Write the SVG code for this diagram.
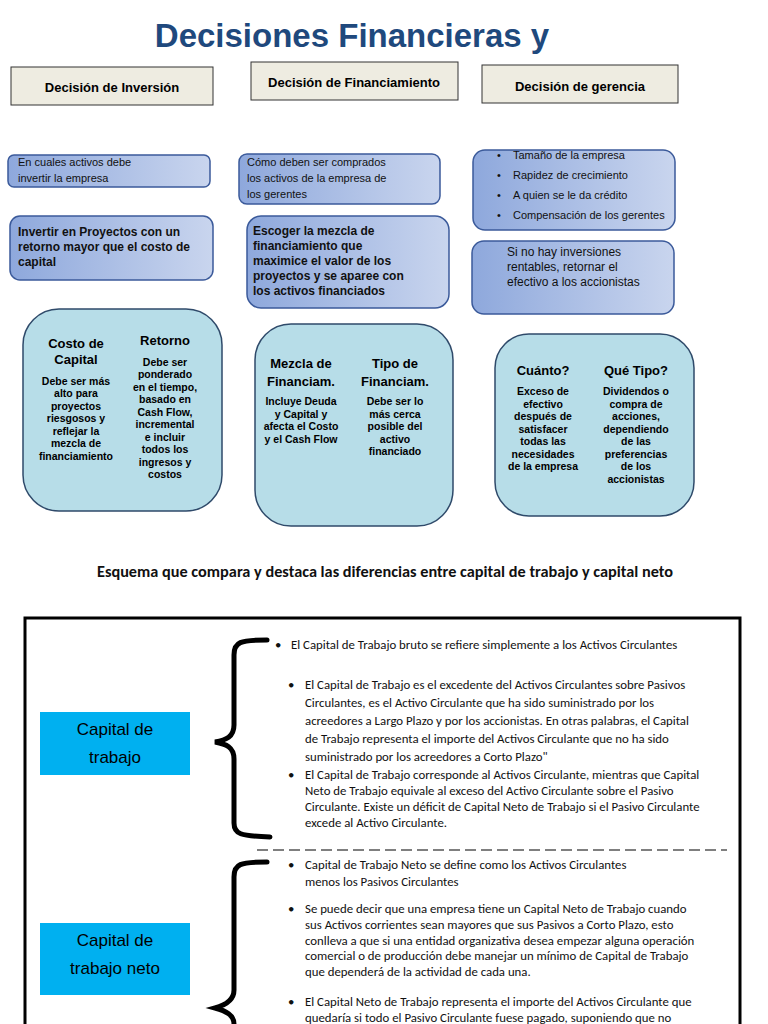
<svg xmlns="http://www.w3.org/2000/svg" width="768" height="1024" viewBox="0 0 768 1024">
<defs>
<linearGradient id="g" x1="0" y1="0" x2="1" y2="0"><stop offset="0" stop-color="#8ea8dc"/><stop offset="1" stop-color="#c9d5ee"/></linearGradient>
<style>
.hd{fill:#eeece1;stroke:#333;stroke-width:1}
.hdt{font:bold 13px "Liberation Sans",Arial,sans-serif;fill:#000;text-anchor:middle}
.bl{fill:url(#g);stroke:#3b5a9a;stroke-width:1.5}
.s{font:11px "Liberation Sans",Arial,sans-serif;fill:#111}
.b{font:bold 12px "Liberation Sans",Arial,sans-serif;fill:#111}
.cy{fill:#b7dde8;stroke:#2f4a6a;stroke-width:1.5}
.ct{font:bold 13px "Liberation Sans",Arial,sans-serif;fill:#000;text-anchor:middle}
.cs{font:bold 10.5px "Liberation Sans",Arial,sans-serif;fill:#000;text-anchor:middle}
.c{font:12.8px Carlito,"Liberation Sans",Arial,sans-serif;fill:#111}
.lb{fill:#00b0f0}
.lbt{font:17px "Liberation Sans",Arial,sans-serif;fill:#000;text-anchor:middle}
.br{fill:none;stroke:#000;stroke-width:5;stroke-linecap:round}
</style>
</defs>
<rect width="768" height="1024" fill="#fff"/>
<text x="352" y="47" text-anchor="middle" style="font:bold 33px 'Liberation Sans',Arial,sans-serif;fill:#1f497d">Decisiones Financieras y</text>
<g id="h1"><rect class="hd" x="11" y="67" width="202" height="38"/><text class="hdt" x="112" y="92">Decisión de Inversión</text></g>
<g id="h2"><rect class="hd" x="251" y="62" width="207" height="38" stroke-width="2"/><text class="hdt" x="354" y="87">Decisión de Financiamiento</text></g>
<g id="h3"><rect class="hd" x="482" y="65" width="196" height="38"/><text class="hdt" x="580" y="91">Decisión de gerencia</text></g>

<g id="b1"><rect class="bl" x="8" y="155" width="202" height="32" rx="6"/><text class="s" x="18" y="166">En cuales activos debe</text><text class="s" x="18" y="182">invertir la empresa</text></g>
<g id="b2"><rect class="bl" x="10" y="216" width="203" height="64" rx="10"/><text class="b" x="18" y="236">Invertir en Proyectos con un</text><text class="b" x="18" y="251">retorno mayor que el costo de</text><text class="b" x="18" y="266">capital</text></g>
<g id="b3"><rect class="bl" x="239" y="154" width="201" height="50" rx="8"/><text class="s" x="247" y="166">Cómo deben ser comprados</text><text class="s" x="247" y="182">los activos de la empresa de</text><text class="s" x="247" y="198">los gerentes</text></g>
<g id="b4"><rect class="bl" x="247" y="216" width="202" height="92" rx="14"/><text class="b" x="253" y="235">Escoger la mezcla de</text><text class="b" x="253" y="250">financiamiento que</text><text class="b" x="253" y="265">maximice el valor de los</text><text class="b" x="253" y="280">proyectos y se aparee con</text><text class="b" x="253" y="295">los activos financiados</text></g>
<g id="b5"><rect class="bl" x="473" y="150" width="202" height="80" rx="12"/>
<g class="s"><text x="497" y="159">•</text><text x="513" y="159">Tamaño de la empresa</text><text x="497" y="179">•</text><text x="513" y="179">Rapidez de crecimiento</text><text x="497" y="199">•</text><text x="513" y="199">A quien se le da crédito</text><text x="497" y="219">•</text><text x="513" y="219">Compensación de los gerentes</text></g></g>
<g id="b6"><rect class="bl" x="472" y="241" width="202" height="73" rx="12"/><text class="s" x="507" y="256" style="font-size:12px">Si no hay inversiones</text><text class="s" x="507" y="271" style="font-size:12px">rentables, retornar el</text><text class="s" x="507" y="286" style="font-size:12px">efectivo a los accionistas</text></g>

<g id="c1"><rect class="cy" x="23" y="309" width="199" height="202" rx="36"/>
<text class="ct" x="76" y="348">Costo de</text><text class="ct" x="76" y="364">Capital</text>
<text class="ct" x="165" y="345">Retorno</text>
<g class="cs"><text x="76" y="385">Debe ser más</text><text x="76" y="397">alto para</text><text x="76" y="410">proyectos</text><text x="76" y="422">riesgosos y</text><text x="76" y="435">reflejar la</text><text x="76" y="447">mezcla de</text><text x="76" y="460">financiamiento</text>
<text x="165" y="366">Debe ser</text><text x="165" y="378">ponderado</text><text x="165" y="391">en el tiempo,</text><text x="165" y="403">basado en</text><text x="165" y="416">Cash Flow,</text><text x="165" y="428">incremental</text><text x="165" y="441">e incluir</text><text x="165" y="453">todos los</text><text x="165" y="466">ingresos y</text><text x="165" y="478">costos</text></g></g>

<g id="c2"><rect class="cy" x="255" y="324" width="198" height="202" rx="36"/>
<text class="ct" x="301" y="368">Mezcla de</text><text class="ct" x="301" y="386">Financiam.</text>
<text class="ct" x="395" y="368">Tipo de</text><text class="ct" x="395" y="386">Financiam.</text>
<g class="cs"><text x="301" y="405">Incluye Deuda</text><text x="301" y="418">y Capital y</text><text x="301" y="430">afecta el Costo</text><text x="301" y="443">y el Cash Flow</text>
<text x="395" y="405">Debe ser lo</text><text x="395" y="418">más cerca</text><text x="395" y="430">posible del</text><text x="395" y="443">activo</text><text x="395" y="455">financiado</text></g></g>

<g id="c3"><rect class="cy" x="495" y="334" width="199" height="182" rx="34"/>
<text class="ct" x="543" y="375">Cuánto?</text><text class="ct" x="636" y="375">Qué Tipo?</text>
<g class="cs"><text x="543" y="395">Exceso de</text><text x="543" y="408">efectivo</text><text x="543" y="420">después de</text><text x="543" y="433">satisfacer</text><text x="543" y="445">todas las</text><text x="543" y="458">necesidades</text><text x="543" y="470">de la empresa</text>
<text x="636" y="395">Dividendos o</text><text x="636" y="408">compra de</text><text x="636" y="420">acciones,</text><text x="636" y="433">dependiendo</text><text x="636" y="445">de las</text><text x="636" y="458">preferencias</text><text x="636" y="470">de los</text><text x="636" y="483">accionistas</text></g></g>

<text x="385" y="577" text-anchor="middle" style="font:bold 16.3px Carlito,'Liberation Sans',Arial,sans-serif;fill:#111">Esquema que compara y destaca las diferencias entre capital de trabajo  y capital neto</text>

<rect x="25" y="618" width="715" height="420" fill="none" stroke="#000" stroke-width="3"/>
<g id="k1"><rect class="lb" x="40" y="712" width="150" height="63"/><text class="lbt" x="115" y="735">Capital de</text><text class="lbt" x="115" y="763">trabajo</text></g>
<g id="k2"><rect class="lb" x="40" y="923" width="150" height="72"/><text class="lbt" x="115" y="946">Capital de</text><text class="lbt" x="115" y="974">trabajo neto</text></g>
<g id="connectors">
<path class="br" d="M267,640 C240,640 234,642 234,655 L234,725 C234,737 226,740 215,742 C226,744 234,747 234,759 L234,823 C234,834 240,836 270,837"/>
<path class="br" d="M267,862 C240,862 234,864 234,877 L234,990 C234,1000 226,1005 215,1008 C226,1011 234,1015 234,1024 L234,1030"/>
<line x1="257" y1="850" x2="727" y2="850" stroke="#000" stroke-dasharray="11,5" stroke-width="1.2"/>
</g>
<g class="c">
<text x="275" y="649">•</text><text x="291" y="649">El Capital de Trabajo bruto se refiere simplemente a los Activos Circulantes</text>
<text x="288" y="689">•</text><text x="305" y="689">El Capital de Trabajo es el excedente del Activos Circulantes sobre Pasivos</text>
<text x="305" y="707">Circulantes, es el Activo Circulante que ha sido suministrado por los</text>
<text x="305" y="725">acreedores a Largo Plazo y por los accionistas. En otras palabras, el Capital</text>
<text x="305" y="743">de Trabajo representa el importe del Activos Circulante que no ha sido</text>
<text x="305" y="761">suministrado por los acreedores a Corto Plazo"</text>
<text x="288" y="779">•</text><text x="305" y="779">El Capital de Trabajo corresponde al Activos Circulante, mientras que Capital</text>
<text x="305" y="795">Neto de Trabajo equivale al exceso del Activo Circulante sobre el Pasivo</text>
<text x="305" y="811">Circulante. Existe un déficit de Capital Neto de Trabajo si el Pasivo Circulante</text>
<text x="305" y="827">excede al Activo Circulante.</text>
<text x="288" y="869">•</text><text x="305" y="869">Capital de Trabajo Neto se define como los Activos Circulantes</text>
<text x="305" y="886">menos los Pasivos Circulantes</text>
<text x="288" y="913">•</text><text x="305" y="913">Se puede decir que una empresa tiene un Capital Neto de Trabajo cuando</text>
<text x="305" y="929">sus Activos corrientes sean mayores que sus Pasivos a Corto Plazo, esto</text>
<text x="305" y="945">conlleva a que si una entidad organizativa desea empezar alguna operación</text>
<text x="305" y="960">comercial o de producción debe manejar un mínimo de Capital de Trabajo</text>
<text x="305" y="976">que dependerá de la actividad de cada una.</text>
<text x="288" y="1006">•</text><text x="305" y="1006">El Capital Neto de Trabajo representa el importe del Activos Circulante que</text>
<text x="305" y="1022">quedaría si todo el Pasivo Circulante fuese pagado, suponiendo que no</text>
</g>
</svg>
